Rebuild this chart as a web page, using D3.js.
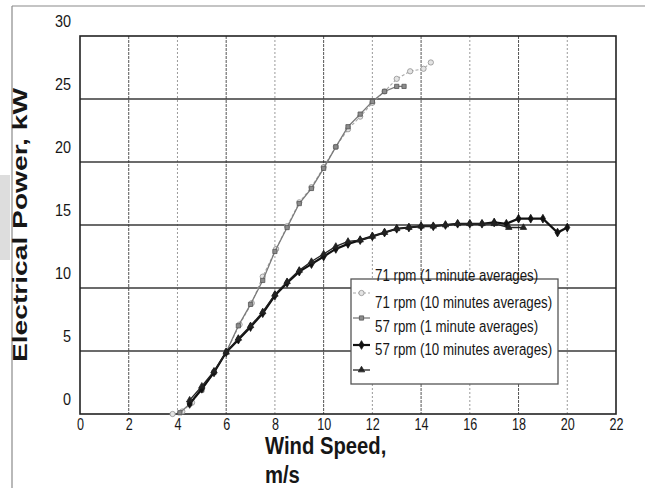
<!DOCTYPE html>
<html>
<head>
<meta charset="utf-8">
<script src="https://cdn.jsdelivr.net/npm/d3@7"></script>
<style>
  html, body { margin: 0; padding: 0; background: #fff; }
  svg { display: block; }
  text { font-family: "Liberation Sans", Arial, sans-serif; fill: #161616; }
</style>
</head>
<body>
<svg id="chart" width="645" height="488"></svg>
<script>
// Axis ticks
const xTicks = [0, 2, 4, 6, 8, 10, 12, 14, 16, 18, 20, 22];
const yTicks = [0, 5, 10, 15, 20, 25, 30];

// Legend labels
const seriesNames = [
  "71 rpm (1 minute averages)",
  "71 rpm (10 minutes averages)",
  "57 rpm (1 minute averages)",
  "57 rpm (10 minutes averages)"
];

// 71 rpm, 1 minute averages
const wind71One  = [3.8, 4.2, 4.6, 5.0, 5.5, 6.0, 6.55, 7.05, 7.5, 8.05, 8.5, 9.0, 9.5, 10.0, 10.5, 11.0, 11.5, 12.0, 12.5, 13.0, 13.55, 14.1, 14.4];
const power71One = [0.0, 0.2, 0.9, 2.0, 3.3, 4.9, 7.1, 8.8, 10.9, 13.1, 14.9, 16.8, 18.0, 19.6, 21.2, 22.6, 23.6, 24.7, 25.6, 26.6, 27.2, 27.4, 27.9];

// 71 rpm, 10 minutes averages
const wind71Ten  = [4.1, 4.5, 5.0, 5.5, 6.0, 6.5, 7.0, 7.5, 8.0, 8.5, 9.0, 9.5, 10.0, 10.5, 11.0, 11.5, 12.0, 12.5, 13.0, 13.3];
const power71Ten = [0.1, 0.8, 1.9, 3.3, 4.9, 7.0, 8.7, 10.6, 12.9, 14.8, 16.7, 17.9, 19.5, 21.2, 22.8, 23.8, 24.8, 25.6, 26.0, 26.0];

// 57 rpm, 1 minute averages
const wind57One  = [4.5, 5.0, 5.5, 6.0, 6.5, 7.0, 7.5, 8.0, 8.5, 9.0, 9.5, 10.0, 10.5, 11.0, 11.5, 12.0, 12.5, 13.0, 13.5, 14.0, 14.5, 15.0, 15.5, 16.0, 16.5, 17.0, 17.5, 18.0, 18.5, 19.0, 19.6, 20.0];
const power57One = [0.8, 2.0, 3.3, 4.9, 5.9, 6.9, 8.0, 9.4, 10.4, 11.3, 11.9, 12.5, 13.1, 13.5, 13.8, 14.1, 14.4, 14.7, 14.8, 14.9, 14.9, 15.0, 15.1, 15.1, 15.1, 15.2, 15.1, 15.5, 15.5, 15.5, 14.4, 14.8];

// 57 rpm, 10 minutes averages
const wind57Ten  = [4.5, 5.0, 5.5, 6.0, 6.5, 7.0, 7.5, 8.0, 8.5, 9.0, 9.5, 10.0, 10.5, 11.0, 11.5, 12.0, 12.5, 13.0, 13.5, 14.0, 14.5, 15.0, 15.5, 16.0, 16.5, 17.0, 17.6, 18.2];
const power57Ten = [1.1, 2.2, 3.4, 4.9, 6.0, 7.0, 8.1, 9.5, 10.5, 11.4, 12.1, 12.7, 13.3, 13.7, 13.8, 14.1, 14.4, 14.7, 14.8, 14.9, 14.9, 15.0, 15.1, 15.1, 15.1, 15.1, 14.8, 14.8];

const svg = d3.select("#chart");

const x = d3.scaleLinear().domain([0, 22]).range([80, 616]);
const y = d3.scaleLinear().domain([0, 30]).range([414, 36]);

// Condense a text horizontally by squeezing it into a shorter length
function condense(sel, factor) {
  sel.each(function () {
    const w = this.getComputedTextLength();
    d3.select(this).attr("textLength", w * factor).attr("lengthAdjust", "spacingAndGlyphs");
  });
}

// Page border and shading on the left edge
svg.append("rect").attr("x", 0).attr("y", 175).attr("width", 10).attr("height", 85)
  .attr("fill", "#cfcfcf").attr("opacity", 0.7);
svg.append("line").attr("x1", 12).attr("x2", 645).attr("y1", 6).attr("y2", 6)
  .attr("stroke", "#8a8a8a").attr("stroke-width", 1.2);
svg.append("line").attr("x1", 12).attr("x2", 12).attr("y1", 6).attr("y2", 488)
  .attr("stroke", "#8a8a8a").attr("stroke-width", 1.2);

// Grid
const grid = svg.append("g");
grid.selectAll("line.v").data(xTicks.filter(t => t > 0 && t < 22)).join("line")
  .attr("x1", d => x(d)).attr("x2", d => x(d))
  .attr("y1", y(30)).attr("y2", y(0))
  .attr("stroke", d => (d % 4 === 2) ? "#555" : "#9a9a9a")
  .attr("stroke-width", 1)
  .attr("stroke-dasharray", d => (d % 4 === 2) ? "3,1" : "2,2");
grid.selectAll("line.h").data(yTicks.filter(t => t > 0 && t < 30)).join("line")
  .attr("x1", x(0)).attr("x2", x(22))
  .attr("y1", d => y(d)).attr("y2", d => y(d))
  .attr("stroke", "#3a3a3a").attr("stroke-width", 1.4);

// Plot frame
svg.append("rect")
  .attr("x", x(0)).attr("y", y(30))
  .attr("width", x(22) - x(0)).attr("height", y(0) - y(30))
  .attr("fill", "none").attr("stroke", "#222").attr("stroke-width", 1.6);

// X axis labels
const xAxis = svg.append("g").attr("transform", `translate(0,${y(0)})`)
  .call(d3.axisBottom(x).tickValues(xTicks).tickSize(0).tickFormat(d3.format("d")));
xAxis.select(".domain").remove();
xAxis.selectAll("text")
  .attr("y", 16).attr("dy", 0)
  .style("font-size", "17px").style("font-family", "'Liberation Sans', Arial, sans-serif")
  .attr("fill", "#161616")
  .call(condense, 0.74);

// Y axis labels (sit a little above their grid lines)
const yAxis = svg.append("g").attr("transform", `translate(${x(0)},0)`)
  .call(d3.axisLeft(y).tickValues(yTicks).tickSize(0).tickFormat(d3.format("d")));
yAxis.select(".domain").remove();
yAxis.selectAll("text")
  .attr("x", -9).attr("dy", 0).attr("y", -10)
  .attr("text-anchor", "end")
  .style("font-size", "16px").style("font-family", "'Liberation Sans', Arial, sans-serif")
  .attr("fill", "#161616")
  .call(condense, 0.9);

// Series
const series = [
  { wind: wind71One, power: power71One, stroke: "#a8a8a8", width: 1.1, dash: "3,2",
    symbol: d3.symbolCircle, size: 22, fill: "#e4e4e4", mstroke: "#909090" },
  { wind: wind71Ten, power: power71Ten, stroke: "#7a7a7a", width: 1.3, dash: null,
    symbol: d3.symbolSquare, size: 18, fill: "#8c8c8c", mstroke: "#555" },
  { wind: wind57One, power: power57One, stroke: "#111", width: 2.2, dash: null,
    symbol: d3.symbolDiamond, size: 22, fill: "#111", mstroke: "#111" },
  { wind: wind57Ten, power: power57Ten, stroke: "#222", width: 1.3, dash: null,
    symbol: d3.symbolTriangle, size: 18, fill: "#222", mstroke: "#222" }
];

const line = d3.line().x(d => x(d[0])).y(d => y(d[1]));

series.forEach(s => {
  const pts = s.wind.map((w, i) => [w, s.power[i]]);
  const g = svg.append("g");
  g.append("path").datum(pts)
    .attr("d", line).attr("fill", "none")
    .attr("stroke", s.stroke).attr("stroke-width", s.width)
    .attr("stroke-dasharray", s.dash);
  g.selectAll("path.m").data(pts).join("path")
    .attr("transform", d => `translate(${x(d[0])},${y(d[1])})`)
    .attr("d", d3.symbol(s.symbol, s.size))
    .attr("fill", s.fill).attr("stroke", s.mstroke).attr("stroke-width", 0.8);
});

// Legend
const legend = svg.append("g");
legend.append("rect")
  .attr("x", 351).attr("y", 279).attr("width", 207).attr("height", 105)
  .attr("fill", "#fff").attr("stroke", "#555").attr("stroke-width", 1.3);

const keyRows = [293, 318, 345, 370];
series.forEach((s, i) => {
  const ky = keyRows[i];
  legend.append("line")
    .attr("x1", 353).attr("x2", 370).attr("y1", ky).attr("y2", ky)
    .attr("stroke", s.stroke).attr("stroke-width", s.width)
    .attr("stroke-dasharray", s.dash);
  legend.append("path")
    .attr("transform", `translate(361.5,${ky})`)
    .attr("d", d3.symbol(s.symbol, s.size))
    .attr("fill", s.fill).attr("stroke", s.mstroke).attr("stroke-width", 0.8);
});

const labelBase = [281, 308, 332, 355];
legend.selectAll("text.key").data(seriesNames).join("text")
  .attr("x", 375).attr("y", (d, i) => labelBase[i])
  .style("font-size", "16px")
  .text(d => d)
  .call(condense, 0.83);

// Axis titles
svg.append("text")
  .attr("x", 265).attr("y", 454)
  .style("font-size", "23px").style("font-weight", "bold")
  .text("Wind Speed,")
  .call(condense, 0.88);
svg.append("text")
  .attr("x", 265).attr("y", 483)
  .style("font-size", "23px").style("font-weight", "bold")
  .text("m/s")
  .call(condense, 0.88);

svg.append("text")
  .attr("transform", "translate(27,362) rotate(-90)")
  .attr("textLength", 274).attr("lengthAdjust", "spacingAndGlyphs")
  .style("font-size", "20px").style("font-weight", "bold")
  .text("Electrical Power,  kW");
</script>
</body>
</html>
